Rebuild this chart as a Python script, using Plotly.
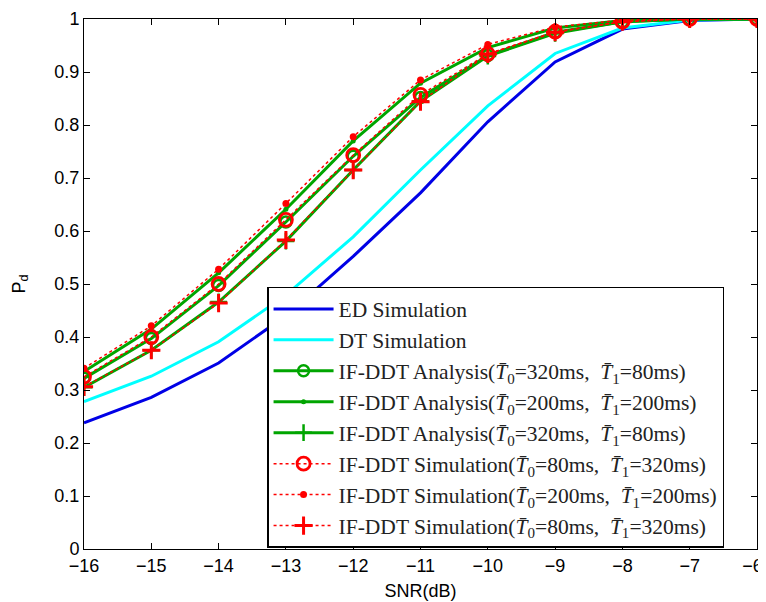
import plotly.graph_objects as go

snr = [-16, -15, -14, -13, -12, -11, -10, -9, -8, -7, -6]

ed_sim = [0.238, 0.286, 0.351, 0.44, 0.552, 0.672, 0.806, 0.919, 0.981, 0.997, 1.0]
dt_sim = [0.278, 0.326, 0.391, 0.479, 0.589, 0.715, 0.836, 0.935, 0.983, 0.998, 1.0]

ana_320_80_a = [0.322, 0.397, 0.497, 0.617, 0.741, 0.852, 0.931, 0.975, 0.995, 1.0, 1.0]
ana_200_200 = [0.335, 0.415, 0.521, 0.641, 0.770, 0.879, 0.946, 0.983, 0.997, 1.0, 1.0]
ana_320_80_b = [0.305, 0.375, 0.466, 0.581, 0.715, 0.845, 0.930, 0.973, 0.995, 1.0, 1.0]

sim_80_320_a = [0.325, 0.400, 0.500, 0.621, 0.743, 0.857, 0.934, 0.976, 0.995, 1.0, 1.0]
sim_200_200 = [0.341, 0.421, 0.528, 0.652, 0.778, 0.885, 0.952, 0.985, 0.998, 1.0, 1.0]
sim_80_320_b = [0.306, 0.375, 0.464, 0.583, 0.715, 0.844, 0.934, 0.975, 0.995, 1.0, 1.0]

x_ticktext = ["\u221216", "\u221215", "\u221214", "\u221213", "\u221212", "\u221211",
              "\u221210", "\u22129", "\u22128", "\u22127", "\u22126\u2002"]

T0 = "<i>T\u0304</i><sub>0</sub>"
T1 = "<i>T\u0304</i><sub>1</sub>"
names = [
    "ED Simulation",
    "DT Simulation",
    f"IF-DDT Analysis({T0}=320ms,  {T1}=80ms)",
    f"IF-DDT Analysis({T0}=200ms,  {T1}=200ms)",
    f"IF-DDT Analysis({T0}=320ms,  {T1}=80ms)",
    f"IF-DDT Simulation({T0}=80ms,  {T1}=320ms)",
    f"IF-DDT Simulation({T0}=200ms,  {T1}=200ms)",
    f"IF-DDT Simulation({T0}=80ms,  {T1}=320ms)",
]

GREEN = "rgb(0,165,0)"
RED = "rgb(255,0,0)"

fig = go.Figure()
fig.add_trace(go.Scatter(x=snr, y=ed_sim, mode="lines", name=names[0],
                         line=dict(color="rgb(0,0,230)", width=3)))
fig.add_trace(go.Scatter(x=snr, y=dt_sim, mode="lines", name=names[1],
                         line=dict(color="rgb(0,255,255)", width=3)))

fig.add_trace(go.Scatter(x=snr, y=ana_320_80_a, mode="lines+markers", name=names[2],
                         line=dict(color=GREEN, width=3),
                         marker=dict(symbol="circle-open", size=11, color=GREEN, line=dict(width=2.5, color=GREEN))))
fig.add_trace(go.Scatter(x=snr, y=ana_200_200, mode="lines+markers", name=names[3],
                         line=dict(color=GREEN, width=3),
                         marker=dict(symbol="circle", size=5, color=GREEN)))
fig.add_trace(go.Scatter(x=snr, y=ana_320_80_b, mode="lines+markers", name=names[4],
                         line=dict(color=GREEN, width=3),
                         marker=dict(symbol="cross-thin-open", size=12, color=GREEN, line=dict(width=2.5, color=GREEN))))

fig.add_trace(go.Scatter(x=snr, y=sim_80_320_a, mode="lines+markers", name=names[5],
                         line=dict(color=RED, width=1.5, dash="dot"),
                         marker=dict(symbol="circle-open", size=13, color=RED, line=dict(width=2.8, color=RED))))
fig.add_trace(go.Scatter(x=snr, y=sim_200_200, mode="lines+markers", name=names[6],
                         line=dict(color=RED, width=1.5, dash="dot"),
                         marker=dict(symbol="circle", size=7, color=RED)))
fig.add_trace(go.Scatter(x=snr, y=sim_80_320_b, mode="lines+markers", name=names[7],
                         line=dict(color=RED, width=1.5, dash="dot"),
                         marker=dict(symbol="cross-thin-open", size=13, color=RED, line=dict(width=3, color=RED))))

axis_common = dict(showgrid=False, zeroline=False, showline=True, linecolor="black", linewidth=1,
                   mirror="ticks", ticks="inside", ticklen=6, tickcolor="black",
                   tickfont=dict(family="Liberation Sans, Arial", size=18, color="black"))

fig.update_layout(
    width=766, height=602,
    margin=dict(l=76, r=17, t=11, b=61),
    paper_bgcolor="white", plot_bgcolor="white",
    showlegend=True,
    legend=dict(x=0.272, y=0.002, xanchor="left", yanchor="bottom",
                bgcolor="white", bordercolor="black", borderwidth=1.5,
                font=dict(family="Liberation Serif, Times New Roman", size=21.5, color="#222"),
                itemwidth=60, tracegroupgap=0),
    xaxis=dict(range=[-16, -6], tickvals=snr, ticktext=x_ticktext,
               ticklabeloverflow="allow",
               title=dict(text="SNR(dB)", font=dict(family="Liberation Sans, Arial", size=18, color="black"), standoff=9),
               automargin=False, **axis_common),
    yaxis=dict(range=[0, 1], dtick=0.1, tickformat="~g",
               title=dict(text="P<sub>d</sub>", font=dict(family="Liberation Sans, Arial", size=18, color="black"), standoff=24),
               automargin=False, **axis_common),
)

fig.write_html("out.html")
